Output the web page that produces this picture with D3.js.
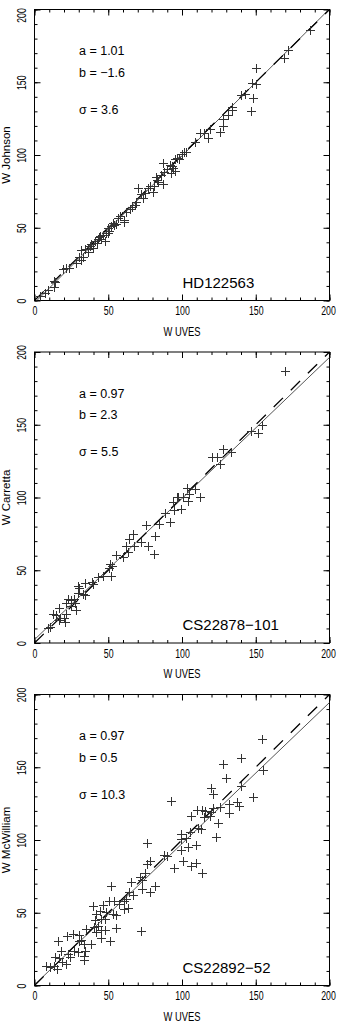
<!DOCTYPE html>
<html><head><meta charset="utf-8">
<script src="https://cdn.jsdelivr.net/npm/d3@7"></script>
<style>body{margin:0;background:#fff}svg{display:block}</style>
</head><body>
<svg id="c" width="340" height="1024"></svg>
<script>
const majorTicks = [0, 50, 100, 150, 200];
const minorTicks = [0,10,20,30,40,50,60,70,80,90,100,110,120,130,140,150,160,170,180,190,200];
const starNames = ["HD122563", "CS22878\u2212101", "CS22892\u221252"];
const yTitles = ["W Johnson", "W Carretta", "W McWilliam"];
const xTitle = "W UVES";
const fitA = [1.01, 0.97, 0.97];
const fitB = [-1.6, 2.3, 0.5];
const fitSigma = [3.6, 5.5, 10.3];

// panel 1: W UVES vs W Johnson
const hd122563 = [
[200,190],[187,186],[172,172],[169,167],[150,160],[150.5,148.6],[147.6,149.3],[148,139],[147,130.5],
[142.4,141.7],[139.7,141],[134,133.3],[134,131],[131,127.4],[127.5,125],[128,120],[126,116],[119.3,118],
[117.5,112],[112.5,115],[114.8,115.3],[109,109],[101.2,102.2],[100,100.5],[103,102],[96.3,98.2],[95,97],
[87,94.5],[93,92.4],[92,93.4],[94,91.4],[95.4,89],[92.7,87.3],[86,86.2],[82.5,85],[84,81.6],[87,80.4],
[81,78.6],[77,77],[80,74.7],[70.5,77],[72,73.2],[73.4,70.2],[67.8,65.6],[62,61],[61,55.3],[56.5,56.4],
[54.2,52],[55.4,52.5],[52,51.4],[49.7,49.6],[48.6,46.6],[49.7,46.2],[46.3,45],[44,43.5],[43,42.1],
[45.2,42.1],[47.5,41],[40.7,40.7],[42.5,39.5],[39.5,36.1],[37.3,37.2],[36.6,35.4],[34,35.4],[31.6,34.8],
[36.2,33.6],[32.8,29.8],[30.5,29.8],[31.6,28],[28.2,25.6],[21.5,22.2],[23.7,22.2],[19.2,21.5],[14,13],
[13,13.6],[13.1,9.6],[9,7.3],[6.8,5],[4,2.8],[60.6,54.2],[66,64],[75,74],[88,88],[58,58],[65,63],[78,78.5],
[44.5,44],[50.5,48],[38,38.5],[53,53.5],[69,68],[83,82.5],[90,90.5],[98,97.5]
];
// panel 2: W UVES vs W Carretta
const cs22878 = [
[169.5,187],[147,146],[151.5,144],[154.5,149.5],[128,133],[133.5,131.5],[120,127.5],[124,127.5],[125.5,123],
[103.5,106.7],[108.5,105.6],[112.5,100.1],[105,102.4],[104,97.6],[100.6,100.1],[97.6,100.1],[96.7,100.5],
[93.8,97.1],[99.4,91.9],[94.5,91.4],[88.6,89.2],[92.2,83.4],[84.1,81.6],[75.7,81.2],[81.8,73.6],[66.7,74.8],
[64.4,71.3],[62.1,66.7],[72.3,69.7],[76.8,66.7],[80.9,61.3],[63.3,62.8],[59.9,59.4],[55.4,60.5],[67.3,66.7],
[51.5,54.4],[52.4,53],[50.2,51.4],[52,46.2],[46.3,46.2],[42.9,45.3],[38.9,42.2],[39.5,40.6],[33.9,41.4],
[29.8,39.3],[30.5,37.7],[29.8,34.7],[32.8,33.8],[34.4,33.1],[27.1,30.2],[22.6,30.2],[24.9,29.3],[21.5,27.4],
[27.6,27.4],[24.9,25.1],[28.2,22.8],[16.3,24],[12.4,20.1],[14.7,19.3],[21.5,20.1],[19.9,17.1],[17.6,17.1],
[16.3,16],[20.8,14.1],[10.2,11],[9,10.3]
];
// panel 3: W UVES vs W McWilliam
const cs22892 = [
[154.4,169.5],[139.7,156.5],[127.7,151.9],[129.5,142.7],[155,147.8],[140.1,136.8],[119.8,135.9],[121.1,131.7],
[148.2,129.4],[137.4,126],[138.5,123.7],[131.7,124.8],[126.1,122.6],[131.7,118.4],[121.1,122.1],[113.7,120.4],
[118.8,116.8],[124.4,111.5],[122.8,101.9],[92.5,127],[110.3,120.7],[115.3,119.8],[106.2,116.2],[119.8,119.1],
[114.8,116.1],[113,107.7],[111,108.4],[99,104.2],[105.1,105.3],[102.8,101.5],[99.4,100.9],[109.6,96.9],
[76.4,97.8],[99.4,92.8],[104.4,95.1],[88.1,90],[89.9,88.7],[100.6,85.4],[109.6,84.1],[105.8,81.8],[94.5,80.9],
[113.4,77.2],[78.6,85.4],[76.4,83.5],[75,77.2],[71.2,74.4],[72.8,72.2],[65.5,71.2],[81.8,68.7],[72.8,66.5],
[78,64.1],[52,68.7],[64.4,64.1],[62.1,59.6],[66.7,61.9],[61,58.4],[57.6,56.1],[54.2,58.4],[50.8,58.4],
[60.6,52.7],[63.3,53.4],[39.5,54.3],[46.3,55],[44.1,51.5],[48.6,50.4],[41.8,49.3],[55.4,48.2],[53.1,49.3],
[45.2,45.8],[40.7,45.2],[47.5,45.8],[40.2,40.5],[55.4,39.6],[42.9,41],[35,38.9],[47.5,38.2],[45.2,38.2],
[71.9,37.8],[41.8,36.6],[30.5,34.4],[26,35.5],[22.1,33.8],[45.2,32.8],[51.5,30.9],[31.6,31.4],[30.5,30.5],
[38.4,28.2],[15.8,30.9],[33.4,28.6],[18.1,23.6],[26.7,23.9],[29.4,22.8],[33.9,23.6],[22.6,21.8],[24.4,19.5],
[33.4,20.6],[33.4,17.6],[13.6,19.5],[16.3,18.6],[18.5,16],[21.5,14.8],[13.1,13.7],[15.4,11.4],[7.9,13.7],[10.2,12.6]
];
const panelData = [hd122563, cs22878, cs22892];

const svg = d3.select("#c");
const left = 34.5, right = 329.5;
const tops = [9.5, 352, 694.5];
const plotH = 291;
const FONT = "'Liberation Sans', Arial, Helvetica, sans-serif";
const condense = (sel, f) => sel.each(function(){
  const L = this.getComputedTextLength();
  d3.select(this).attr("textLength", L * f).attr("lengthAdjust", "spacingAndGlyphs");
});

panelData.forEach((pts, i) => {
  const top = tops[i], bottom = top + plotH;
  const x = d3.scaleLinear().domain([0, 200]).range([left, right]);
  const y = d3.scaleLinear().domain([0, 200]).range([bottom, top]);
  const g = svg.append("g");
  const cid = "clip" + i;
  g.append("clipPath").attr("id", cid).append("rect")
    .attr("x", left).attr("y", top).attr("width", right - left).attr("height", plotH);

  const mk = (axisFn, scale, size, vals) => axisFn(scale).tickValues(vals).tickSize(size).tickFormat("");
  const addAxis = (axis, tx, ty) => {
    const a = g.append("g").attr("transform", `translate(${tx},${ty})`).call(axis);
    a.select(".domain").remove();
    a.selectAll("line").attr("stroke", "#000").attr("stroke-width", 1);
    return a;
  };
  addAxis(mk(d3.axisBottom, x, -3, minorTicks), 0, bottom);
  addAxis(mk(d3.axisTop, x, -3, minorTicks), 0, top);
  addAxis(mk(d3.axisLeft, y, -3, minorTicks), left, 0);
  addAxis(mk(d3.axisRight, y, -3, minorTicks), right, 0);
  addAxis(mk(d3.axisTop, x, -6, majorTicks), 0, top);
  addAxis(mk(d3.axisRight, y, -6, majorTicks), right, 0);

  const xb = addAxis(d3.axisBottom(x).tickValues(majorTicks).tickSize(-6).tickPadding(6).tickFormat(d3.format("d")), 0, bottom);
  xb.selectAll("text").attr("font-family", FONT).attr("font-size", 12).attr("fill", "#000")
    .attr("x", d => Math.min(0, right + 8.5 - x(d) - 10))
    .call(condense, 0.73);
  const yl = addAxis(d3.axisLeft(y).tickValues(majorTicks).tickSize(-6).tickFormat(d3.format("d")), left, 0);
  yl.selectAll("text").attr("font-family", FONT).attr("font-size", 12).attr("fill", "#000")
    .attr("transform", "rotate(-90)").attr("x", d => Math.min(0, y(d) - 15)).attr("y", -8.5).attr("dy", 0)
    .attr("text-anchor", "middle").call(condense, 0.72);

  g.append("rect").attr("x", left).attr("y", top).attr("width", right - left).attr("height", plotH)
    .attr("fill", "none").attr("stroke", "#000").attr("stroke-width", 1);

  const plot = g.append("g").attr("clip-path", `url(#${cid})`);
  plot.append("line")
    .attr("x1", x(0)).attr("y1", y(fitB[i]))
    .attr("x2", x(200)).attr("y2", y(fitA[i] * 200 + fitB[i]))
    .attr("stroke", "#555").attr("stroke-width", 1);
  plot.append("line")
    .attr("x1", x(0)).attr("y1", y(0)).attr("x2", x(200)).attr("y2", y(200))
    .attr("stroke", "#000").attr("stroke-width", 1.3).attr("stroke-dasharray", "13,11");
  plot.selectAll("path.pt").data(pts).join("path").attr("class", "pt")
    .attr("transform", d => `translate(${Math.round(x(d[0])) + 0.5},${Math.round(y(d[1])) + 0.5})`)
    .attr("d", "M-4.5,0H4.5M0,-4.5V4.5")
    .attr("stroke", "#333").attr("stroke-width", 1).attr("fill", "none");

  const fmtB = v => (v < 0 ? "\u2212" : "") + Math.abs(v).toString();
  const ann = [["a = " + fitA[i].toFixed(2), 45.5], ["b = " + fmtB(fitB[i]), 67], ["\u03c3 = " + fitSigma[i], 104]];
  g.selectAll("text.ann").data(ann).join("text").attr("class", "ann")
    .attr("x", 79).attr("y", d => top + d[1])
    .attr("font-family", FONT).attr("font-size", 12.5).attr("fill", "#000")
    .text(d => d[0]);

  g.append("text").attr("x", 182.5).attr("y", bottom - 13)
    .attr("font-family", FONT).attr("font-size", 15).attr("fill", "#000")
    .text(starNames[i]);

  g.append("text").attr("x", (left + right) / 2).attr("y", bottom + 35)
    .attr("text-anchor", "middle").attr("font-family", FONT).attr("font-size", 12).attr("fill", "#000")
    .text(xTitle).call(condense, 0.78);
  g.append("text").attr("transform", `translate(9.5,${(top + bottom) / 2}) rotate(-90)`)
    .attr("text-anchor", "middle").attr("font-family", FONT).attr("font-size", 11.5).attr("fill", "#000")
    .text(yTitles[i]);
});
</script>
</body></html>
